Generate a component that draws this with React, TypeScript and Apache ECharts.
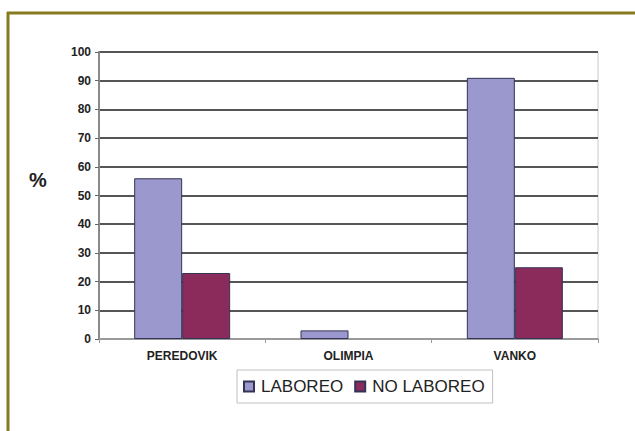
import React, { useEffect, useRef } from "react";
import * as echarts from "echarts";

const categories = ["PEREDOVIK", "OLIMPIA", "VANKO"];
const laboreo = [56, 3, 91];
const noLaboreo = [23, 0, 25];
const seriesNames = ["LABOREO", "NO LABOREO"];
const yTicks = { min: 0, max: 100, interval: 10 };

const toItems = (vals: number[]) =>
  vals.map((v) => (v === 0 ? { value: v, itemStyle: { borderWidth: 0, opacity: 0 } } : v));

export default function App() {
  const ref = useRef<HTMLDivElement>(null);
  useEffect(() => {
    const chart = echarts.init(ref.current!, null, { renderer: "svg" });
    chart.setOption({
      animation: false,
      backgroundColor: "#ffffff",
      textStyle: { fontFamily: "Liberation Sans, Arial, sans-serif" },
      grid: { left: 99, right: 37, top: 52, bottom: 92, show: true, borderColor: "#c8c8c8", borderWidth: 1 },
      graphic: [
        { type: "line", shape: { x1: 7, y1: 13, x2: 635, y2: 13 }, style: { stroke: "#857a1f", lineWidth: 3 } },
        { type: "line", shape: { x1: 8, y1: 12, x2: 8, y2: 431 }, style: { stroke: "#857a1f", lineWidth: 3 } },
        {
          type: "text",
          left: 29,
          top: 170,
          style: { text: "%", font: "bold 20px Liberation Sans, Arial, sans-serif", fill: "#222" },
        },
      ],
      legend: {
        data: seriesNames,
        left: 237,
        top: 370,
        orient: "horizontal",
        icon: "rect",
        itemWidth: 10,
        itemHeight: 10,
        itemGap: 11,
        padding: [8, 8, 8, 6],
        borderColor: "#c0c0c0",
        borderWidth: 1,
        textStyle: { fontSize: 17, color: "#222", fontFamily: "Liberation Sans, Arial, sans-serif", padding: [0, 0, 0, 2] },
      },
      xAxis: {
        type: "category",
        data: categories,
        axisLine: { lineStyle: { color: "#9a9a9a", width: 2 } },
        axisTick: { show: true, length: 4, lineStyle: { color: "#9a9a9a" } },
        axisLabel: { fontSize: 12, fontWeight: "bold", color: "#222", margin: 11 },
      },
      yAxis: {
        type: "value",
        min: yTicks.min,
        max: yTicks.max,
        interval: yTicks.interval,
        axisLine: { show: true, lineStyle: { color: "#8a8a8a", width: 2 } },
        axisTick: { show: true, length: 4, lineStyle: { color: "#666" } },
        axisLabel: { fontSize: 12, fontWeight: "bold", color: "#222", margin: 8 },
        splitLine: { show: true, lineStyle: { color: "#555", width: 2 } },
      },
      series: [
        {
          name: seriesNames[0],
          type: "bar",
          data: toItems(laboreo),
          barWidth: 48,
          barGap: "0%",
          itemStyle: { color: "#9a98cc", borderColor: "#333355", borderWidth: 1 },
        },
        {
          name: seriesNames[1],
          type: "bar",
          data: toItems(noLaboreo),
          barWidth: 48,
          barGap: "0%",
          itemStyle: { color: "#8b2b5c", borderColor: "#333355", borderWidth: 1 },
        },
      ],
    });
    return () => chart.dispose();
  }, []);
  return <div ref={ref} style={{ width: 635, height: 431, position: "absolute", left: 0, top: 0 }} />;
}
